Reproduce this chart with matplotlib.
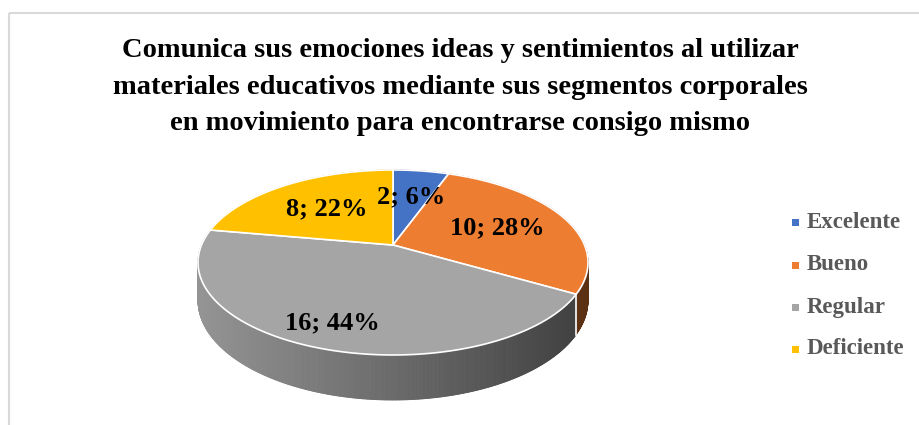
import numpy as np
import matplotlib
matplotlib.use("Agg")
import matplotlib.pyplot as plt
from matplotlib.collections import PolyCollection
from matplotlib.patches import Polygon, Rectangle
from matplotlib.colors import to_rgb


TITLE = (
    "Comunica sus emociones ideas y sentimientos al utilizar\n"
    "materiales educativos mediante sus segmentos corporales\n"
    "en movimiento para encontrarse consigo mismo"
)
CATEGORIES = ["Excelente", "Bueno", "Regular", "Deficiente"]
VALUES = [2, 10, 16, 8]
PERCENT_LABELS = ["6%", "28%", "44%", "22%"]
COLORS = ["#4472C4", "#ED7D31", "#A5A5A5", "#FFC000"]

# layout of the tilted pie (pixel space, y pointing down)
CX, CY = 393, 245
RX, RY = 191.5, 89.2
PERSP = 0.189
DEPTH = 36.5
LABEL_R = [0.61, 0.60, 0.80, 0.58]

FONT = ["Liberation Serif", "DejaVu Serif"]


def project(theta_deg, r=1.0, z=0.0):
    theta = np.radians(theta_deg)
    c = r * np.sin(theta)
    s = -r * np.cos(theta)
    w = 1 - PERSP * s
    x = CX + RX * c / w
    y = CY + (RY * s + z * DEPTH) / w
    return x, y


def shade(color, x, x_min, x_max):
    t = np.clip((x - x_min) / (x_max - x_min), 0, 1)
    factor = 0.90 - 0.52 * t
    return tuple(np.array(to_rgb(color)) * factor)


fig = plt.figure(figsize=(9.2, 4.25), dpi=100)
ax = fig.add_axes([0, 0, 1, 1])
ax.set_xlim(0, 920)
ax.set_ylim(425, 0)
ax.axis("off")

ax.add_patch(Rectangle((9, 13), 940, 440, fill=False,
                       edgecolor="#D9D9D9", linewidth=1.5))

total = sum(VALUES)
bounds = np.concatenate([[0], np.cumsum(VALUES) / total * 360])

# side of the cylinder with a left-to-right shading
x_left = CX - RX * 1.02
x_right = CX + RX * 1.02
for i, color in enumerate(COLORS):
    a0, a1 = bounds[i], bounds[i + 1]
    angles = np.linspace(a0, a1, max(int((a1 - a0) * 3), 2))
    quads = []
    faces = []
    for t0, t1 in zip(angles[:-1], angles[1:]):
        xa, ya = project(t0)
        xb, yb = project(t1)
        xc, yc = project(t1, z=1)
        xd, yd = project(t0, z=1)
        quads.append([(xa, ya), (xb, yb), (xc, yc), (xd, yd)])
        faces.append(shade(color, (xa + xb) / 2, x_left, x_right))
    ax.add_collection(PolyCollection(quads, facecolors=faces,
                                     edgecolors=faces, linewidths=0.6))

# white seam on the side where slices meet in front
for b in bounds[1:-1]:
    if 90 < b < 270:
        x0, y0 = project(b)
        x1, y1 = project(b, z=1)
        ax.plot([x0, x1], [y0, y1], color="white", linewidth=1.2)

# top face
for i, color in enumerate(COLORS):
    a0, a1 = bounds[i], bounds[i + 1]
    angles = np.linspace(a0, a1, 200)
    xs, ys = project(angles)
    pts = [(CX, CY)] + list(zip(xs, ys))
    ax.add_patch(Polygon(pts, closed=True, facecolor=color,
                         edgecolor="white", linewidth=1.2))

# data labels
for i, value in enumerate(VALUES):
    mid = (bounds[i] + bounds[i + 1]) / 2
    lx, ly = project(mid, LABEL_R[i])
    ax.text(lx, ly, f"{value}; {PERCENT_LABELS[i]}", ha="center",
            va="center", fontsize=19, fontweight="bold",
            family=FONT, color="black")

ax.text(460, 87, TITLE, ha="center", va="center", fontsize=20.5,
        fontweight="bold", family=FONT, color="black", linespacing=1.6)

# legend
legend_y = [222, 265, 307, 349]
for name, color, y in zip(CATEGORIES, COLORS, legend_y):
    ax.add_patch(Rectangle((792, y - 3.5), 7, 7, facecolor=color,
                           edgecolor="none"))
    ax.text(807, y, name, ha="left", va="center", fontsize=16.5,
            fontweight="bold", family=FONT, color="#595959")

fig.savefig("out.png", dpi=100)
